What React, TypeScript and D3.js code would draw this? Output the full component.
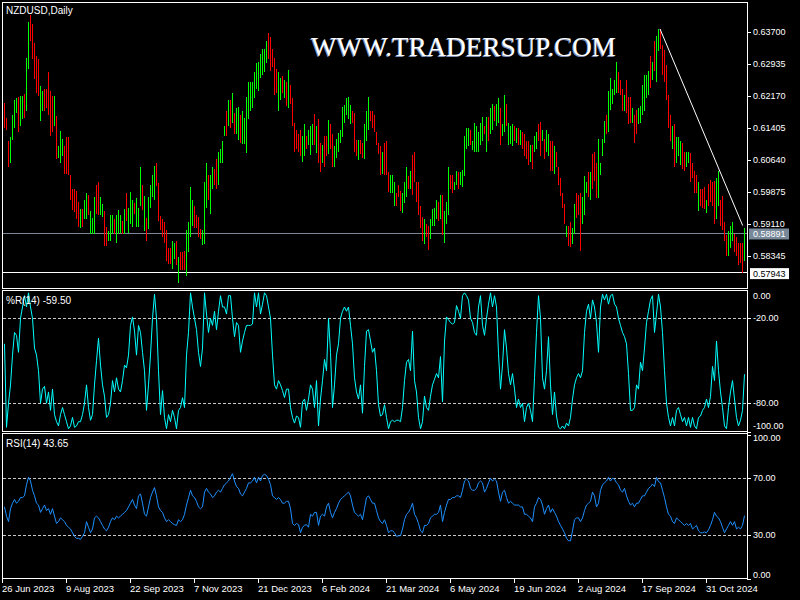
import React from "react";
import * as d3 from "d3";

const highs = [
  0.6200,0.6165,0.6110,0.6119,0.6172,0.6207,0.6212,0.6216,0.6218,0.6218,
  0.6223,0.6309,0.6395,0.6412,0.6389,0.6344,0.6313,0.6305,0.6241,0.6229,
  0.6234,0.6234,0.6274,0.6229,0.6218,0.6218,0.6170,0.6097,0.6135,0.6115,
  0.6099,0.6119,0.6119,0.6030,0.5995,0.5995,0.5991,0.5964,0.5947,0.5947,
  0.5970,0.5985,0.5982,0.5942,0.5926,0.5977,0.6006,0.6011,0.5977,0.5960,
  0.5942,0.5905,0.5894,0.5933,0.5933,0.5924,0.5933,0.5944,0.5933,0.5920,
  0.5947,0.5986,0.5951,0.5988,0.5970,0.5962,0.5973,0.5951,0.6048,0.6006,
  0.5979,0.5926,0.5976,0.6004,0.6030,0.6050,0.6057,0.6010,0.5931,0.5924,
  0.5917,0.5898,0.5854,0.5854,0.5871,0.5867,0.5871,0.5832,0.5845,0.5845,
  0.5847,0.5898,0.5917,0.6000,0.5969,0.5955,0.5933,0.5929,0.5900,0.5898,
  0.6013,0.6057,0.6030,0.6030,0.6048,0.6044,0.6066,0.6085,0.6092,0.6110,
  0.6145,0.6181,0.6209,0.6207,0.6225,0.6176,0.6190,0.6191,0.6172,0.6181,
  0.6165,0.6216,0.6252,0.6252,0.6252,0.6274,0.6296,0.6300,0.6318,0.6331,
  0.6331,0.6349,0.6368,0.6358,0.6331,0.6309,0.6282,0.6274,0.6260,0.6265,
  0.6256,0.6252,0.6280,0.6243,0.6212,0.6154,0.6137,0.6128,0.6137,0.6123,
  0.6150,0.6121,0.6137,0.6145,0.6150,0.6174,0.6145,0.6163,0.6106,0.6101,
  0.6123,0.6123,0.6161,0.6150,0.6128,0.6097,0.6114,0.6129,0.6137,0.6191,
  0.6197,0.6212,0.6216,0.6197,0.6181,0.6176,0.6112,0.6112,0.6112,0.6106,
  0.6150,0.6181,0.6216,0.6183,0.6183,0.6172,0.6132,0.6106,0.6099,0.6084,
  0.6106,0.6110,0.6035,0.6030,0.6030,0.6013,0.5986,0.6004,0.5991,0.5986,
  0.6013,0.6048,0.6026,0.6039,0.6076,0.6084,0.6013,0.6013,0.5955,0.5929,
  0.5924,0.5911,0.5907,0.5924,0.5947,0.5951,0.5969,0.5964,0.5982,0.5982,
  0.5942,0.5964,0.6048,0.6030,0.6030,0.6013,0.6038,0.6035,0.6035,0.6041,
  0.6123,0.6141,0.6141,0.6137,0.6110,0.6154,0.6145,0.6132,0.6154,0.6168,
  0.6145,0.6168,0.6168,0.6190,0.6198,0.6194,0.6198,0.6214,0.6190,0.6150,
  0.6221,0.6198,0.6154,0.6145,0.6150,0.6145,0.6141,0.6141,0.6137,0.6132,
  0.6128,0.6110,0.6110,0.6101,0.6101,0.6123,0.6132,0.6150,0.6156,0.6137,
  0.6115,0.6137,0.6128,0.6110,0.6110,0.6097,0.6084,0.6048,0.6022,0.5986,
  0.5960,0.5907,0.5907,0.5916,0.5902,0.5960,0.5986,0.5982,0.5986,0.5977,
  0.6026,0.6013,0.6035,0.6035,0.6079,0.6085,0.6057,0.6114,0.6057,0.6114,
  0.6159,0.6172,0.6229,0.6260,0.6234,0.6256,0.6300,0.6274,0.6256,0.6234,
  0.6221,0.6256,0.6216,0.6216,0.6190,0.6172,0.6185,0.6190,0.6194,0.6243,
  0.6269,0.6269,0.6278,0.6313,0.6300,0.6349,0.6362,0.6377,0.6378,0.6340,
  0.6327,0.6291,0.6221,0.6172,0.6145,0.6150,0.6119,0.6119,0.6110,0.6106,
  0.6084,0.6084,0.6084,0.6082,0.6057,0.6039,0.6030,0.6013,0.5995,0.5995,
  0.6000,0.5969,0.6008,0.6017,0.6013,0.6015,0.6022,0.6039,0.5969,0.5978,
  0.5916,0.5885,0.5894,0.5907,0.5916,0.5889,0.5880,0.5867,0.5867,0.5867,
  0.5902,
];

const lows = [
  0.6141,0.6137,0.6048,0.6057,0.6112,0.6141,0.6176,0.6132,0.6145,0.6163,
  0.6165,0.6181,0.6282,0.6349,0.6305,0.6259,0.6225,0.6218,0.6159,0.6183,
  0.6181,0.6190,0.6172,0.6121,0.6132,0.6145,0.6066,0.6070,0.6057,0.6075,
  0.6032,0.6032,0.6030,0.5969,0.5944,0.5940,0.5924,0.5905,0.5902,0.5905,
  0.5924,0.5924,0.5933,0.5887,0.5889,0.5887,0.5935,0.5933,0.5933,0.5929,
  0.5858,0.5858,0.5870,0.5870,0.5889,0.5889,0.5867,0.5889,0.5891,0.5889,
  0.5889,0.5920,0.5891,0.5911,0.5905,0.5935,0.5905,0.5905,0.5955,0.5944,
  0.5894,0.5870,0.5900,0.5951,0.5977,0.5969,0.6002,0.5920,0.5898,0.5880,
  0.5867,0.5823,0.5817,0.5817,0.5805,0.5827,0.5814,0.5770,0.5802,0.5801,
  0.5801,0.5787,0.5845,0.5880,0.5907,0.5902,0.5902,0.5880,0.5876,0.5861,
  0.5863,0.5951,0.5969,0.5935,0.5995,0.6006,0.5995,0.6006,0.6057,0.6057,
  0.6121,0.6121,0.6145,0.6141,0.6154,0.6128,0.6128,0.6112,0.6106,0.6103,
  0.6103,0.6082,0.6163,0.6181,0.6190,0.6212,0.6234,0.6229,0.6260,0.6269,
  0.6274,0.6296,0.6305,0.6278,0.6287,0.6221,0.6225,0.6181,0.6207,0.6225,
  0.6212,0.6194,0.6190,0.6198,0.6145,0.6085,0.6092,0.6084,0.6075,0.6061,
  0.6075,0.6092,0.6101,0.6076,0.6101,0.6101,0.6082,0.6057,0.6035,0.6057,
  0.6048,0.6075,0.6079,0.6092,0.6048,0.6048,0.6070,0.6084,0.6106,0.6119,
  0.6154,0.6172,0.6163,0.6150,0.6154,0.6084,0.6075,0.6064,0.6079,0.6070,
  0.6066,0.6110,0.6137,0.6159,0.6141,0.6132,0.6101,0.6079,0.6030,0.6032,
  0.6030,0.6030,0.5988,0.5986,0.5986,0.5955,0.5955,0.5977,0.5942,0.5938,
  0.5962,0.5977,0.5995,0.5995,0.5982,0.6013,0.5964,0.5933,0.5902,0.5871,
  0.5863,0.5880,0.5849,0.5876,0.5907,0.5907,0.5924,0.5920,0.5924,0.5885,
  0.5867,0.5911,0.5933,0.5995,0.5986,0.5993,0.6004,0.5995,0.6004,0.6000,
  0.6026,0.6092,0.6097,0.6101,0.6088,0.6084,0.6085,0.6085,0.6101,0.6110,
  0.6128,0.6085,0.6110,0.6128,0.6137,0.6159,0.6145,0.6154,0.6101,0.6123,
  0.6132,0.6145,0.6101,0.6103,0.6097,0.6110,0.6106,0.6101,0.6101,0.6092,
  0.6075,0.6066,0.6053,0.6061,0.6044,0.6084,0.6092,0.6110,0.6075,0.6110,
  0.6066,0.6084,0.6075,0.6039,0.6039,0.6031,0.6048,0.6004,0.5978,0.5951,
  0.5911,0.5880,0.5858,0.5856,0.5863,0.5889,0.5926,0.5933,0.5847,0.5911,
  0.5933,0.5986,0.5977,0.5969,0.5995,0.6015,0.5973,0.5973,0.6030,0.6075,
  0.6106,0.6128,0.6132,0.6185,0.6198,0.6221,0.6225,0.6225,0.6221,0.6181,
  0.6181,0.6176,0.6150,0.6154,0.6154,0.6106,0.6128,0.6150,0.6154,0.6172,
  0.6181,0.6212,0.6221,0.6238,0.6256,0.6278,0.6252,0.6325,0.6331,0.6269,
  0.6252,0.6207,0.6141,0.6110,0.6092,0.6048,0.6057,0.6075,0.6053,0.6044,
  0.6039,0.6048,0.6057,0.6013,0.6022,0.5986,0.5986,0.5942,0.5955,0.5951,
  0.5947,0.5938,0.5955,0.5964,0.5955,0.5911,0.5924,0.5955,0.5907,0.5898,
  0.5871,0.5836,0.5836,0.5854,0.5871,0.5845,0.5836,0.5814,0.5818,0.57943,
  0.5823,
];

// u = bullish bar (green), d = bearish bar (red)
const dirs = [
  "ddduuuuduu","duuddddduu","ddddduduuu","ddddddddud","uuduuudduu",
  "dduuuduuud","uduuuduuud","uduuuudddd","dddduududd","duuuuddddu",
  "uuduudduuu","udududuudu","uuu",
  "uuuuuuuuud","dddduududu","dddddduudu","uududduddu","dduuuuuuuu",
  "udddudduuu","dddddduddd","uuuddduuud","uddddddudd","uuuududuuu",
  "dduuduuuuu","duuuuuudud","uuduu",
  "duuduuudud","udddduduud","duduuddudd","dddudduudd","duuududddu",
  "uuuduuuuud","dduddduddu","uuuuududuu","dddddduduu","udduuddddu",
  "dddudddduu","dddduuuddd","ddu",
].join("");

const wpr = [
  -38,-97,-80,-67,-46,-30,-32,-44,-20,-12,
  -4,-12,-2,-12,-20,-41,-46,-57,-80,-70,
  -68,-80,-72,-85,-70,-88,-93,-96,-88,-83,
  -88,-93,-98,-96,-90,-97,-96,-93,-93,-88,
  -80,-67,-83,-92,-88,-67,-50,-34,-53,-67,
  -75,-90,-88,-80,-64,-72,-62,-70,-72,-64,
  -53,-55,-46,-25,-19,-29,-46,-25,-30,-44,
  -57,-85,-67,-46,-20,-3,-20,-57,-88,-71,
  -90,-98,-88,-93,-85,-90,-98,-85,-83,-76,
  -83,-46,-30,-2,-12,-20,-28,-44,-54,-41,
  -2,-17,-30,-20,-25,-15,-28,-15,-4,-12,
  -12,-17,-4,-4,-20,-33,-23,-25,-44,-36,
  -30,-25,-25,-25,-24,-2,-12,-2,-17,-10,
  -2,-4,-12,-20,-46,-67,-70,-64,-67,-71,
  -76,-70,-70,-83,-90,-94,-89,-90,-97,-79,
  -77,-85,-77,-67,-70,-83,-64,-96,-77,-64,
  -49,-57,-20,-44,-83,-67,-46,-38,-20,-15,
  -12,-15,-12,-25,-38,-62,-72,-77,-67,-87,
  -54,-29,-28,-36,-44,-41,-57,-81,-89,-88,
  -81,-90,-98,-93,-92,-93,-92,-92,-93,-83,
  -64,-51,-49,-57,-29,-64,-72,-90,-98,-93,
  -75,-83,-85,-75,-67,-63,-59,-62,-47,-79,
  -36,-19,-21,-23,-24,-23,-11,-15,-20,-4,
  -2,-4,-7,-20,-23,-30,-32,-12,-4,-25,
  -32,-20,-10,-2,-12,-4,-12,-45,-70,-53,
  -28,-41,-59,-67,-59,-70,-83,-77,-83,-80,
  -93,-83,-80,-85,-93,-62,-30,-4,-20,-62,
  -70,-57,-33,-67,-88,-72,-89,-97,-98,-96,
  -98,-94,-96,-90,-77,-67,-62,-59,-62,-57,
  -30,-15,-10,-20,-7,-12,-23,-44,-12,-3,
  -7,-3,-10,-4,-3,-10,-12,-20,-25,-30,
  -33,-38,-59,-85,-85,-83,-67,-70,-51,-57,
  -41,-23,-15,-7,-4,-30,-17,-3,-12,-30,
  -57,-80,-90,-96,-90,-96,-85,-83,-88,-93,
  -90,-96,-90,-97,-90,-96,-98,-90,-89,-85,
  -83,-77,-83,-75,-54,-64,-36,-57,-72,-83,
  -96,-98,-83,-72,-64,-77,-90,-96,-92,-85,
  -59.5,
];

const rsi = [
  49.7,43.3,39.5,48.5,52.3,54.9,52.3,53.6,56.2,56.2,
  57.4,65.1,70.3,67.7,61.3,57.4,52.3,51.0,45.9,48.5,
  51.0,47.2,48.5,44.6,48.5,43.3,38.2,39.5,42.1,40.8,
  39.5,36.9,35.6,34.4,31.8,29.2,27.9,27.9,27.2,29.2,
  31.8,39.5,35.6,31.8,34.4,42.1,43.3,42.1,39.5,36.9,
  34.4,33.1,35.6,39.5,42.1,40.8,43.3,42.1,43.3,44.6,
  45.9,47.2,49.7,52.3,54.9,51.0,48.5,57.4,58.7,52.3,
  44.6,43.3,49.7,56.2,60.0,63.1,57.4,49.7,47.2,45.9,
  42.1,39.5,40.8,39.5,38.2,37.4,36.9,40.8,39.5,40.8,
  44.6,51.0,56.2,61.3,57.4,56.2,53.6,49.7,48.5,49.7,
  60.0,62.6,60.0,58.7,56.2,57.4,60.0,61.3,60.0,62.6,
  65.1,66.4,67.7,70.3,72.8,67.7,63.8,62.6,58.7,57.4,
  60.0,62.6,66.4,66.4,67.7,70.3,66.4,70.3,67.7,71.5,
  72.3,71.5,69.0,65.1,57.4,56.2,54.9,56.2,54.9,52.3,
  52.3,53.6,53.6,48.5,38.2,36.9,38.2,37.4,31.8,35.6,
  36.9,37.4,35.6,44.6,43.3,45.9,45.9,36.9,43.3,44.6,
  43.3,49.7,52.3,45.9,42.1,45.9,48.5,52.3,54.9,56.2,
  57.4,58.7,60.0,57.4,51.0,45.9,44.6,43.3,44.6,40.8,
  48.5,56.2,57.4,54.9,52.3,52.3,47.2,42.1,39.5,38.2,
  40.8,36.9,31.8,33.1,33.1,31.8,29.2,29.7,29.7,34.4,
  40.8,44.6,45.9,48.5,52.3,44.6,42.1,38.2,33.1,31.8,
  36.9,36.9,38.2,42.1,43.3,44.6,44.6,45.9,51.0,39.5,
  45.9,51.0,54.9,54.9,56.2,56.2,57.4,57.4,56.2,61.3,
  67.7,69.0,67.7,62.6,61.3,61.3,62.6,66.4,67.7,66.4,
  60.0,62.6,66.4,69.7,67.7,69.0,67.7,60.0,53.6,60.0,
  61.3,56.2,52.3,53.6,52.3,51.0,51.0,51.0,49.7,49.7,
  44.6,44.6,43.3,42.1,39.5,49.7,52.3,56.2,54.9,51.0,
  44.6,48.5,51.0,45.9,48.5,45.9,43.3,39.5,36.9,34.4,
  31.8,27.9,26.2,26.2,33.1,40.8,42.1,42.1,39.5,42.1,
  47.2,51.0,52.3,53.6,60.0,57.4,49.7,52.3,61.3,65.1,
  66.4,67.7,70.3,67.7,69.7,69.0,66.4,65.1,61.3,60.0,
  62.6,57.4,53.6,51.0,52.3,49.7,52.3,52.3,54.9,57.4,
  57.4,60.0,62.6,63.8,65.6,63.8,70.3,67.2,66.4,61.3,
  56.2,49.7,44.6,43.3,39.5,38.2,42.1,40.8,39.5,38.2,
  36.9,38.2,36.9,38.2,34.4,35.6,36.9,33.1,31.8,31.8,
  32.3,31.8,33.8,36.9,40.8,45.9,43.3,42.1,39.5,35.6,
  31.8,34.4,36.9,39.5,36.9,39.5,34.4,35.6,34.4,36.9,
  43.65,
];

const priceTicks = [0.637, 0.62935, 0.6217, 0.61405, 0.6064, 0.59875, 0.5911, 0.58345];
const wprLevels = [-20, -80];
const rsiLevels = [70, 30];
const wprLabels = [0, -20, -80, -100];
const rsiLabels = [100, 70, 30, 0];
const dateLabels = [
  "26 Jun 2023", "9 Aug 2023", "22 Sep 2023", "7 Nov 2023", "21 Dec 2023", "6 Feb 2024",
  "21 Mar 2024", "6 May 2024", "19 Jun 2024", "2 Aug 2024", "17 Sep 2024", "31 Oct 2024",
];
const dateBars = [0, 32, 64, 96, 128, 160, 192, 224, 256, 288, 320, 352];
const bidPrice = 0.58891;
const lowLinePrice = 0.57943;
const trendBars = [328, 369.35];
const trendPrices = [0.6378, 0.5908];

const FONT = "'Liberation Sans', Arial, Helvetica, sans-serif";

export default function App() {
  const N = Math.min(highs.length, lows.length);
  const L = 2, R = 747;
  const mainP = { top: 2, bottom: 288 };
  const wprP = { top: 290, bottom: 431 };
  const rsiP = { top: 433, bottom: 578 };

  const x = d3.scaleLinear().domain([0, 1]).range([4, 6]);
  const y = d3.scaleLinear().domain([0.58345, 0.637]).range([256.3, 32.3]);
  const yW = d3.scaleLinear().domain([-100, 0]).range([431.6, 290]);
  const yR = d3.scaleLinear().domain([0, 100]).range([578.5, 434.5]);

  const wprLine = d3.line<number>().x((_, i) => x(i) + 0.5).y((d) => yW(d));
  const rsiLine = d3.line<number>().x((_, i) => x(i) + 0.5).y((d) => yR(d));

  const labelText = (v: number, yy: number, key: string) => (
    <text key={key} x={753} y={yy} dy="0.35em" fill="#fff" fontSize={9} fontFamily={FONT}>
      {v.toFixed(2)}
    </text>
  );

  return (
    <svg width={800} height={600} style={{ position: "absolute", left: 0, top: 0, display: "block" }}>
      <defs>
        <clipPath id="mainClip">
          <rect x={L + 1} y={mainP.top + 1} width={R - L - 1} height={mainP.bottom - mainP.top - 1} />
        </clipPath>
        <clipPath id="wprClip">
          <rect x={L + 1} y={wprP.top} width={R - L - 1} height={wprP.bottom - wprP.top + 1} />
        </clipPath>
        <clipPath id="rsiClip">
          <rect x={L + 1} y={rsiP.top + 1} width={R - L - 1} height={rsiP.bottom - rsiP.top - 1} />
        </clipPath>
      </defs>
      <rect x={0} y={0} width={800} height={600} fill="#000" />

      {/* main panel horizontal lines */}
      <g shapeRendering="crispEdges">
        <line x1={L} x2={R} y1={Math.round(y(bidPrice)) + 0.5} y2={Math.round(y(bidPrice)) + 0.5} stroke="#778899" />
        <line x1={L} x2={R} y1={Math.round(y(lowLinePrice)) - 0.5} y2={Math.round(y(lowLinePrice)) - 0.5} stroke="#fff" />
      </g>

      {/* bars */}
      <g clipPath="url(#mainClip)" shapeRendering="crispEdges">
        {d3.range(N).map((i) => (
          <line
            key={i}
            x1={x(i) + 0.5}
            x2={x(i) + 0.5}
            y1={y(highs[i])}
            y2={y(lows[i])}
            stroke={dirs[i] === "u" ? "#00ff00" : "#ff0000"}
            strokeWidth={1}
          />
        ))}
      </g>

      {/* trend line */}
      <line
        x1={x(trendBars[0])}
        y1={y(trendPrices[0])}
        x2={x(trendBars[1])}
        y2={y(trendPrices[1])}
        stroke="#fff"
        strokeWidth={1}
      />

      {/* watermark */}
      <text x={310} y={57} fill="#7f8fb8" fontSize={26.6} fontFamily="'Liberation Serif', 'Times New Roman', serif" textLength={305} lengthAdjust="spacingAndGlyphs">
        WWW.TRADERSUP.COM
      </text>
      <text x={311} y={56} fill="#fff" fontSize={26.6} fontFamily="'Liberation Serif', 'Times New Roman', serif" textLength={305} lengthAdjust="spacingAndGlyphs">
        WWW.TRADERSUP.COM
      </text>

      {/* level dashed lines */}
      <g shapeRendering="crispEdges">
        {wprLevels.map((lv) => (
          <line key={"w" + lv} x1={L + 1} x2={R} y1={Math.round(yW(lv)) + 0.5} y2={Math.round(yW(lv)) + 0.5} stroke="#c8c8c8" strokeDasharray="3,2" />
        ))}
        {rsiLevels.map((lv) => (
          <line key={"r" + lv} x1={L + 1} x2={R} y1={Math.round(yR(lv)) + 0.5} y2={Math.round(yR(lv)) + 0.5} stroke="#c8c8c8" strokeDasharray="3,2" />
        ))}
      </g>

      {/* indicator lines */}
      <path d={wprLine(wpr.slice(0, N)) || ""} fill="none" stroke="#00ffff" strokeWidth={1} clipPath="url(#wprClip)" />
      <path d={rsiLine(rsi.slice(0, N)) || ""} fill="none" stroke="#1e90ff" strokeWidth={1} clipPath="url(#rsiClip)" />

      {/* panel borders */}
      <g fill="none" stroke="#fff" shapeRendering="crispEdges">
        <rect x={L + 0.5} y={mainP.top + 0.5} width={R - L} height={mainP.bottom - mainP.top} />
        <rect x={L + 0.5} y={wprP.top + 0.5} width={R - L} height={wprP.bottom - wprP.top} />
        <rect x={L + 0.5} y={rsiP.top + 0.5} width={R - L} height={rsiP.bottom - rsiP.top} />
      </g>

      {/* price axis */}
      <g shapeRendering="crispEdges">
        {priceTicks.map((p) => (
          <line key={"pt" + p} x1={R} x2={R + 4} y1={Math.round(y(p)) + 0.5} y2={Math.round(y(p)) + 0.5} stroke="#fff" />
        ))}
      </g>
      {priceTicks.map((p) => (
        <text key={"pl" + p} x={753} y={y(p) - 0.5} dy="0.35em" fill="#fff" fontSize={9} fontFamily={FONT}>
          {p.toFixed(5)}
        </text>
      ))}

      {/* bid & low labels */}
      <rect x={749} y={y(bidPrice) - 5} width={40} height={11} fill="#778899" />
      <text x={753} y={y(bidPrice) + 0.5} dy="0.35em" fill="#fff" fontSize={9} fontFamily={FONT}>
        {bidPrice.toFixed(5)}
      </text>
      <rect x={750} y={y(lowLinePrice) - 5} width={39} height={11} fill="#fff" />
      <text x={753} y={y(lowLinePrice) + 0.5} dy="0.35em" fill="#000" fontSize={9} fontFamily={FONT}>
        {lowLinePrice.toFixed(5)}
      </text>

      {/* %R / RSI axis ticks */}
      <g shapeRendering="crispEdges">
        {wprLevels.concat([-100]).map((lv) => (
          <line key={"wt" + lv} x1={R} x2={R + 4} y1={Math.round(yW(lv)) + 0.5} y2={Math.round(yW(lv)) + 0.5} stroke="#fff" />
        ))}
        {rsiLabels.map((lv) => (
          <line key={"rt" + lv} x1={R} x2={R + 4} y1={Math.round(yR(lv)) + 0.5} y2={Math.round(yR(lv)) + 0.5} stroke="#fff" />
        ))}
      </g>
      {wprLabels.map((lv) =>
        labelText(lv, lv === 0 ? yW(lv) + 6 : lv === -100 ? yW(lv) - 6 : yW(lv), "wl" + lv)
      )}
      {rsiLabels.map((lv) =>
        labelText(lv, lv === 100 ? yR(lv) + 3 : lv === 0 ? yR(lv) - 4 : yR(lv), "rl" + lv)
      )}

      {/* date axis */}
      <g shapeRendering="crispEdges">
        {dateBars.map((b) => (
          <line key={"dt" + b} x1={x(b) - 1.5} x2={x(b) - 1.5} y1={rsiP.bottom} y2={rsiP.bottom + 5} stroke="#fff" />
        ))}
      </g>
      {dateBars.map((b, k) => (
        <text key={"dl" + b} x={x(b) - 2} y={592} fill="#fff" fontSize={9.5} fontFamily={FONT}>
          {dateLabels[k]}
        </text>
      ))}

      {/* titles */}
      <text x={6} y={13.5} fill="#fff" fontSize={10} fontFamily={FONT}>NZDUSD,Daily</text>
      <text x={6} y={303.5} fill="#fff" fontSize={10} fontFamily={FONT}>%R(14) -59.50</text>
      <text x={6} y={447} fill="#fff" fontSize={10} fontFamily={FONT}>RSI(14) 43.65</text>
    </svg>
  );
}
